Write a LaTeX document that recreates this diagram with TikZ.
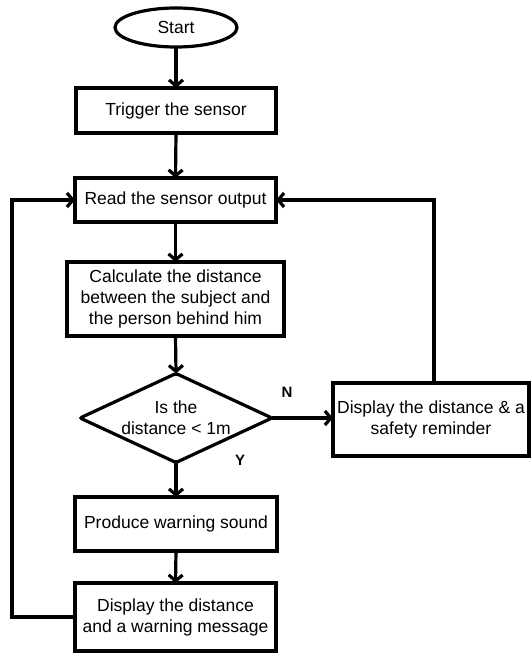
\documentclass[tikz,border=0pt]{standalone}
\usepackage{fontspec}
\setmainfont{Liberation Sans}
\usetikzlibrary{shapes.geometric,arrows.meta}
\begin{document}
\begin{tikzpicture}[x=1pt,y=-1pt,
  every node/.style={font=\fontsize{17.5}{21}\selectfont, inner sep=0pt, outer sep=0pt},
  box/.style={draw, line width=3.2pt, rectangle, align=center},
  term/.style={draw, line width=3.2pt, ellipse},
  dec/.style={draw, line width=3.2pt, diamond, rounded corners=2pt, aspect=2.157},
  conn/.style={line width=3.2pt},
  arr/.style={conn, -{Straight Barb[length=6pt,width=14pt]}},
  lab/.style={font=\fontsize{15}{17}\bfseries\selectfont}
]
\useasboundingbox (0,0) rectangle (531,655);
\node[term, minimum width=122pt, minimum height=39pt] (start) at (176,27.5) {Start};
\node[box, minimum width=200pt, minimum height=45pt] (trig) at (176,110.5) {Trigger the sensor};
\node[box, minimum width=201pt, minimum height=44pt] (read) at (175.5,200) {Read the sensor output};
\node[box, minimum width=217pt, minimum height=74pt] (calc) at (175.5,299) {Calculate the distance\\between the subject and\\the person behind him};
\node[dec, minimum width=192pt, minimum height=89pt] (dec) at (176,418) {};
\node[align=center] (dectext) at (dec.center) {Is the\\distance < 1m};
\node[box, minimum width=196pt, minimum height=73pt] (rt) at (431,419.5) {Display the distance \& a\\safety reminder};
\node[box, minimum width=202pt, minimum height=54pt] (prod) at (176,524) {Produce warning sound};
\node[box, minimum width=201pt, minimum height=68pt] (disp) at (175.5,617) {Display the distance\\and a warning message};
\node[lab] (n) at (287,392) {N};
\node[lab] (y) at (240,460) {Y};
\draw[arr] (start.south) -- (trig.north);
\draw[arr] (trig.south) -- (read.north);
\draw[arr] (read.south) -- (calc.north);
\draw[arr] (calc.south) -- (dec.north);
\draw[arr] (dec.south) -- (prod.north);
\draw[arr] (prod.south) -- (disp.north);
\draw[arr] (dec.east) -- (dec.east -| rt.west);
\draw[arr] ([xshift=3pt]rt.north) |- (read.east);
\draw[arr] (disp.west) -- ++(-63,0) |- (read.west);
\end{tikzpicture}
\end{document}
